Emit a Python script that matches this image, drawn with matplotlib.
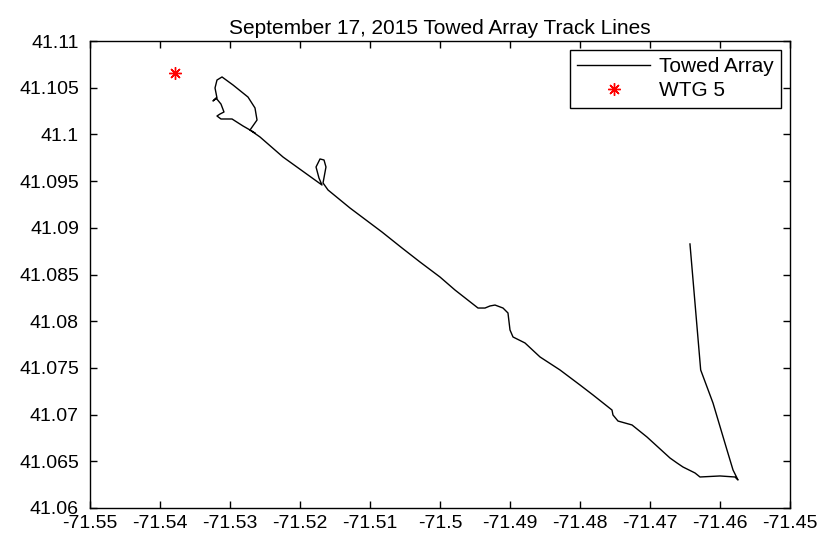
import matplotlib
matplotlib.use("Agg")
import matplotlib.pyplot as plt

# Towed array track (lon, lat)
track_lon = [
    -71.46429, -71.46276, -71.4610, -71.4590, -71.45814, -71.45743,
    -71.45786, -71.4600, -71.46286, -71.46357, -71.46529, -71.46614, -71.46714,
    -71.47043, -71.47257, -71.47457, -71.47529, -71.47543, -71.47814, -71.48,
    -71.48286, -71.48571, -71.48786, -71.48957, -71.49, -71.49029, -71.491,
    -71.49214, -71.49286, -71.49357, -71.49457, -71.49786, -71.5,
    -71.50286, -71.50543, -71.50829, -71.51286, -71.516,
    -71.51671, -71.51629, -71.51657, -71.51714, -71.51771, -71.51729, -71.51686,
    -71.52243, -71.52571, -71.52714,
    -71.52614, -71.52643, -71.52743, -71.52957, -71.53114, -71.53186, -71.53214, -71.53186,
    -71.53243, -71.532, -71.53129, -71.53086, -71.53143, -71.53186, -71.53129,
    -71.52971, -71.52814, -71.52714, -71.52643,
]
track_lat = [
    41.08827, 41.07478, 41.07124, 41.06621, 41.06407, 41.063,
    41.06332, 41.06343, 41.06332, 41.06375, 41.06439, 41.06482, 41.06535,
    41.0676, 41.06889, 41.06931, 41.06996, 41.07049, 41.0721, 41.07317,
    41.07478, 41.07617, 41.07767, 41.07831, 41.07906, 41.08088, 41.08141,
    41.08173, 41.08163, 41.08141, 41.08141, 41.08334, 41.08473,
    41.08634, 41.08784, 41.08955, 41.09212, 41.09405,
    41.0948, 41.09651, 41.09726, 41.09737, 41.09651, 41.09533, 41.09458,
    41.09758, 41.09972, 41.10047,
    41.10154, 41.10283, 41.104, 41.10529, 41.10615, 41.10582, 41.10497, 41.1039,
    41.10358, 41.1039, 41.10325, 41.1024, 41.10218, 41.10197, 41.10165,
    41.10165, 41.1009, 41.10047, 41.10015,
]

# Turbine location
wtg_lon = [-71.5379]
wtg_lat = [41.1066]

x_ticks = [-71.55, -71.54, -71.53, -71.52, -71.51, -71.5, -71.49, -71.48, -71.47, -71.46, -71.45]
x_labels = ["-71.55", "-71.54", "-71.53", "-71.52", "-71.51", "-71.5",
            "-71.49", "-71.48", "-71.47", "-71.46", "-71.45"]
y_ticks = [41.06, 41.065, 41.07, 41.075, 41.08, 41.085, 41.09, 41.095, 41.1, 41.105, 41.11]
y_labels = ["41.06", "41.065", "41.07", "41.075", "41.08", "41.085",
            "41.09", "41.095", "41.1", "41.105", "41.11"]

plt.rcParams["font.family"] = ["Liberation Sans", "DejaVu Sans"]
plt.rcParams["axes.unicode_minus"] = False

fig = plt.figure(figsize=(8.25, 5.42), dpi=100)
ax = fig.add_axes([90 / 825, 1 - 508 / 542, 700 / 825, 467 / 542])

ax.plot(track_lon, track_lat, color="black", linewidth=1.0, label="Towed Array")
asterisk = (8, 2, 0)
ax.plot(wtg_lon, wtg_lat, linestyle="none", marker=asterisk, color="red",
        markersize=9, markeredgewidth=1.0, label="WTG 5")

ax.set_xlim(-71.55, -71.45)
ax.set_ylim(41.06, 41.11)
ax.set_xticks(x_ticks)
ax.set_xticklabels(x_labels)
ax.set_yticks(y_ticks)
ax.set_yticklabels(y_labels)
ax.tick_params(direction="in", length=5, width=1, labelsize=14,
               top=True, right=True)
ax.tick_params(axis="x", pad=5)
ax.tick_params(axis="y", pad=8)
for s in ax.spines.values():
    s.set_linewidth(1.0)

ax.set_title("September 17, 2015 Towed Array Track Lines", fontsize=15, pad=5)

leg = ax.legend(loc="upper left", bbox_to_anchor=(570 / 825, 1 - 50 / 542),
                bbox_transform=fig.transFigure, borderaxespad=0, fontsize=15,
                fancybox=False, edgecolor="black", framealpha=1,
                handlelength=3.5, handletextpad=0.4, borderpad=0.35,
                labelspacing=0.25)
leg.get_frame().set_linewidth(1.0)

fig.savefig("out.png", dpi=100)
